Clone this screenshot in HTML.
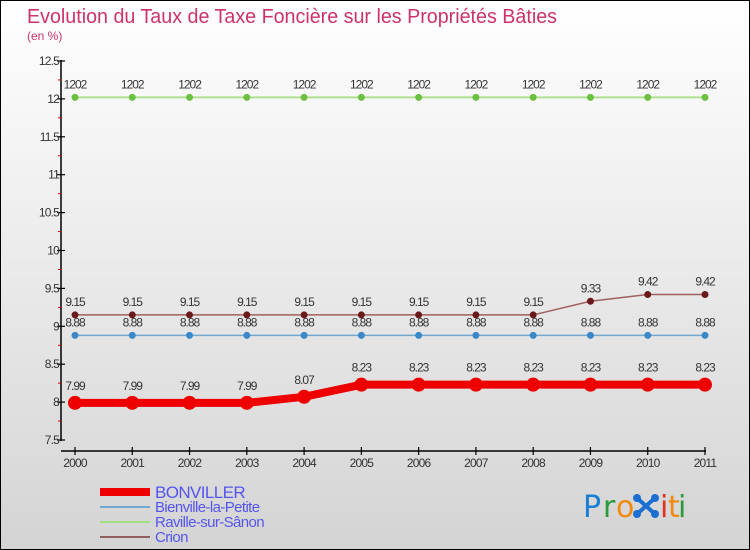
<!DOCTYPE html>
<html><head><meta charset="utf-8"><style>
html,body{margin:0;padding:0;}
body{width:750px;height:550px;overflow:hidden;font-family:"Liberation Sans",sans-serif;}
</style></head><body>
<svg id="chart" width="750" height="550" xmlns="http://www.w3.org/2000/svg" style="display:block">
<defs>
<linearGradient id="bg" x1="0" y1="0" x2="0" y2="1">
<stop offset="0" stop-color="#ffffff"/><stop offset="1" stop-color="#d4d4d4"/>
</linearGradient>
</defs>
<rect x="0.5" y="0.5" width="749" height="549" fill="url(#bg)" stroke="#000" stroke-width="1"/>
<text x="27" y="23" font-size="20" fill="#cc3366" textLength="530" lengthAdjust="spacingAndGlyphs">Evolution du Taux de Taxe Foncière sur les Propriétés Bâties</text>
<text x="27" y="40" font-size="12" fill="#cc3366">(en %)</text>
<g id="axes"></g>
<g id="series"></g>
<g id="legend"></g>
<g font-size="30" font-family="'DejaVu Sans','Liberation Sans',sans-serif">
<text x="583" y="517" fill="#1a7fd4">P</text>
<text x="603" y="517" fill="#2a9a3a">r</text>
<text x="616" y="517" fill="#f08a10">o</text>
<g stroke="#1a6fd0" stroke-width="4"><line x1="637" y1="498" x2="655" y2="514"/><line x1="655" y1="498" x2="637" y2="514"/></g>
<circle cx="637" cy="498" r="4" fill="#1a6fd0"/><circle cx="655" cy="498" r="4" fill="#1a6fd0"/><circle cx="637" cy="514" r="4" fill="#1a6fd0"/><circle cx="655" cy="514" r="4" fill="#1a6fd0"/>
<text x="660" y="517" fill="#e03020">i</text>
<text x="668" y="517" fill="#f08a10">t</text>
<text x="678" y="517" fill="#2a9a3a">i</text>
</g>
</svg>
<script>
const years = [2000,2001,2002,2003,2004,2005,2006,2007,2008,2009,2010,2011];
const bonviller = [7.99,7.99,7.99,7.99,8.07,8.23,8.23,8.23,8.23,8.23,8.23,8.23];
const bienville = [8.88,8.88,8.88,8.88,8.88,8.88,8.88,8.88,8.88,8.88,8.88,8.88];
const raville = [12.02,12.02,12.02,12.02,12.02,12.02,12.02,12.02,12.02,12.02,12.02,12.02];
const crion = [9.15,9.15,9.15,9.15,9.15,9.15,9.15,9.15,9.15,9.33,9.42,9.42];
const yTicks = [7.5,8,8.5,9,9.5,10,10.5,11,11.5,12,12.5];
const yTickLabels = ["7.5","8","8.5","9","9.5","10","10.5","11","11.5","12","12.5"];

const NS="http://www.w3.org/2000/svg";
const X0=75, X1=705, Y0=440, Y1=61, YMIN=7.5, YMAX=12.5;
function xs(i){return X0+(X1-X0)*i/(years.length-1);}
function ys(v){return Y0-(v-YMIN)/(YMAX-YMIN)*(Y0-Y1);}
function mk(tag,attrs,parent){const e=document.createElementNS(NS,tag);for(const k in attrs)e.setAttribute(k,attrs[k]);parent.appendChild(e);return e;}
function lbl(v){return v>=10?v.toFixed(2).replace('.',''):v.toFixed(2);}

const axes=document.getElementById('axes');
let e=mk('line',{x1:61,y1:ys(12.5)-1,x2:61,y2:ys(7.5)+1,stroke:'#000','stroke-width':1.5},axes);


e=mk('line',{x1:61,y1:451,x2:706,y2:451,stroke:'#000','stroke-width':1.5},axes);


yTicks.forEach((t,i)=>{
  const y=ys(t);
  let tk=mk('line',{x1:57,y1:y,x2:65,y2:y,stroke:'#000','stroke-width':1.2},axes);
  
  
  let tx=mk('text',{x:59,y:y+4,'font-size':12,fill:'#333','text-anchor':'end','letter-spacing':'-0.8'},axes);
  tx.textContent=yTickLabels[i];
  
  
  if(i<yTicks.length-1){
    const ym=ys(t+0.25);
    let m=mk('line',{x1:58,y1:ym,x2:61,y2:ym,stroke:'#e00000','stroke-width':1},axes);
    
    
  }
});
years.forEach((yr,i)=>{
  const x=xs(i);
  let tk=mk('line',{x1:x,y1:447,x2:x,y2:455,stroke:'#000','stroke-width':1.2},axes);
  
  
  let tx=mk('text',{x:x,y:467,'font-size':12,fill:'#333','text-anchor':'middle','letter-spacing':'-0.8'},axes);
  tx.textContent=yr;
  
  
});

const series=document.getElementById('series');
function drawSeries(name,vals,lineColor,ptColor,lw,r,labelOff){
  const g=mk('g',{},series);
  
  
  const pts=vals.map((v,i)=>xs(i)+','+ys(v)).join(' ');
  let pl=mk('polyline',{points:pts,fill:'none',stroke:lineColor,'stroke-width':lw,'stroke-linejoin':'round'},g);
  
  
  vals.forEach((v,i)=>{
    let c=mk('circle',{cx:xs(i),cy:ys(v),r:r,fill:ptColor},g);
    
    
    let t=mk('text',{x:xs(i),y:ys(v)-labelOff,'font-size':12,fill:'#333','text-anchor':'middle','letter-spacing':'-1'},g);
    t.textContent=lbl(v);
    
    
  });
}
drawSeries('raville',raville,'#b0e090','#6cc040',2,3.5,9);
drawSeries('crion',crion,'#a06060','#6a1a1a',1.5,3.5,9);
drawSeries('bienville',bienville,'#70a8d0','#3a88c8',1.5,3.5,9);
drawSeries('bonviller',bonviller,'#ee0000','#ee0000',8,7,13);

const legend=document.getElementById('legend');
const legItems=[['BONVILLER','#ee0000',8,17],['Bienville-la-Petite','#70a8d0',2,15],['Raville-sur-Sânon','#a0e080',2,15],['Crion','#906060',2,15]];
legItems.forEach((it,i)=>{
  const y=492+i*15;
  let l=mk('line',{x1:100,y1:y,x2:150,y2:y,stroke:it[1],'stroke-width':it[2]},legend);
  
  
  let t=mk('text',{x:155,y:y+(i==0?6:5),'font-size':it[3],fill:'#5555ee','letter-spacing':'-0.6'},legend);
  t.textContent=it[0];
  
  
});
</script>
</body></html>
